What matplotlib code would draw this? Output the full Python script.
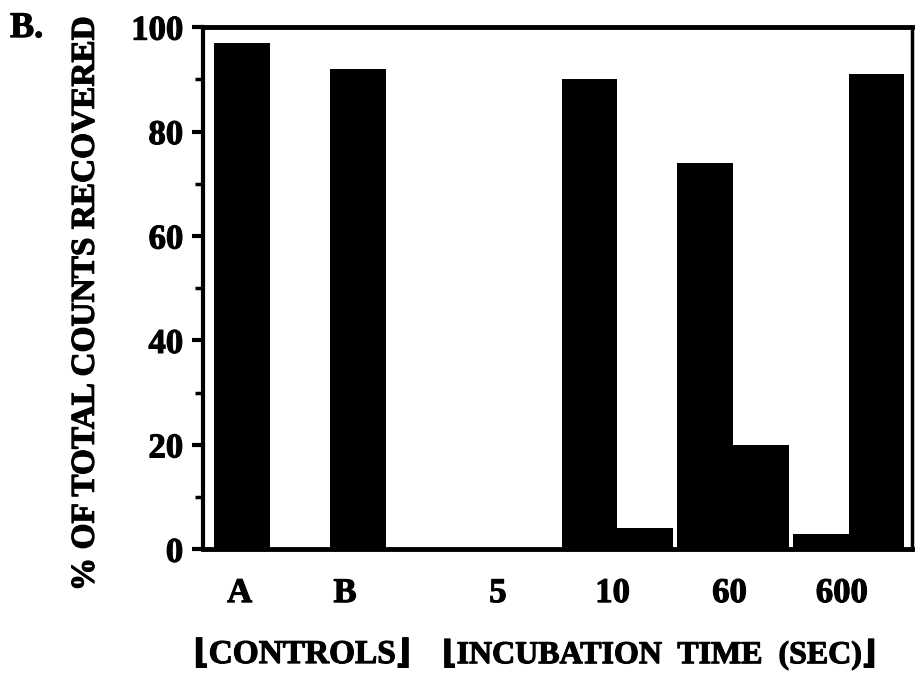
import numpy as np
import matplotlib
matplotlib.use("Agg")
import matplotlib.pyplot as plt
import matplotlib.patheffects as pe
from matplotlib.ticker import MultipleLocator

# groups along the x axis
groups = ["A", "B", "5", "10", "60", "600"]
# first and second bar of each group (% of total counts recovered)
first_bar = [97, 92, 0, 90, 74, 3]
second_bar = [0, 0, 0, 4, 20, 91]
# where each tick label sits (controls labelled under their first bar)
tick_pos = [-0.26, 0.65, 1.97, 2.96, 3.97, 4.94]
y_ticks = [0, 20, 40, 60, 80, 100]

plt.rcParams['font.family'] = ['Liberation Serif', 'DejaVu Sans']
plt.rcParams['font.weight'] = 'bold'

# scanned print look: thicken glyphs a little
heavy = [pe.withStroke(linewidth=0.8, foreground='black')]

fig = plt.figure(figsize=(9.17, 6.79), dpi=100)
ax = fig.add_axes([0.221, 0.191, 0.774, 0.769])

x = np.arange(len(groups))
w = 0.48
ax.bar(x - w / 2, first_bar, width=w, color='black', edgecolor='black', linewidth=0)
ax.bar(x + w / 2, second_bar, width=w, color='black', edgecolor='black', linewidth=0)

ax.set_xlim(-0.58, 5.55)
ax.set_ylim(0, 100)

ax.set_yticks(y_ticks)
ax.yaxis.set_minor_locator(MultipleLocator(10))
ax.tick_params(axis='y', which='major', direction='out', length=8, width=3,
               labelsize=25, pad=6)
ax.tick_params(axis='y', which='minor', direction='out', length=6, width=2.5)
ax.set_xticks(tick_pos)
ax.set_xticklabels(groups)
ax.tick_params(axis='x', length=0, labelsize=25, pad=20)

for lab in ax.get_xticklabels() + ax.get_yticklabels():
    lab.set_fontweight('bold')
    lab.set_path_effects(heavy)

ax.spines['left'].set_linewidth(3)
ax.spines['top'].set_linewidth(3.5)
ax.spines['bottom'].set_linewidth(3.5)
ax.spines['right'].set_linewidth(2.5)

fig.text(0.093, 0.553, "% OF TOTAL COUNTS RECOVERED", rotation=90,
         ha='center', va='center', fontsize=24, fontweight='bold', path_effects=heavy)
fig.text(0.011, 0.958, "B.", ha='left', va='center', fontsize=26, fontweight='bold',
         path_effects=heavy)
fig.text(0.211, 0.036, "\u230aCONTROLS\u230b", ha='left', va='center',
         fontsize=24, fontweight='bold', path_effects=heavy)
fig.text(0.482, 0.036, "\u230aINCUBATION  TIME  (SEC)\u230b", ha='left', va='center',
         fontsize=23, fontweight='bold', path_effects=heavy)

fig.savefig("out.png", dpi=100)
